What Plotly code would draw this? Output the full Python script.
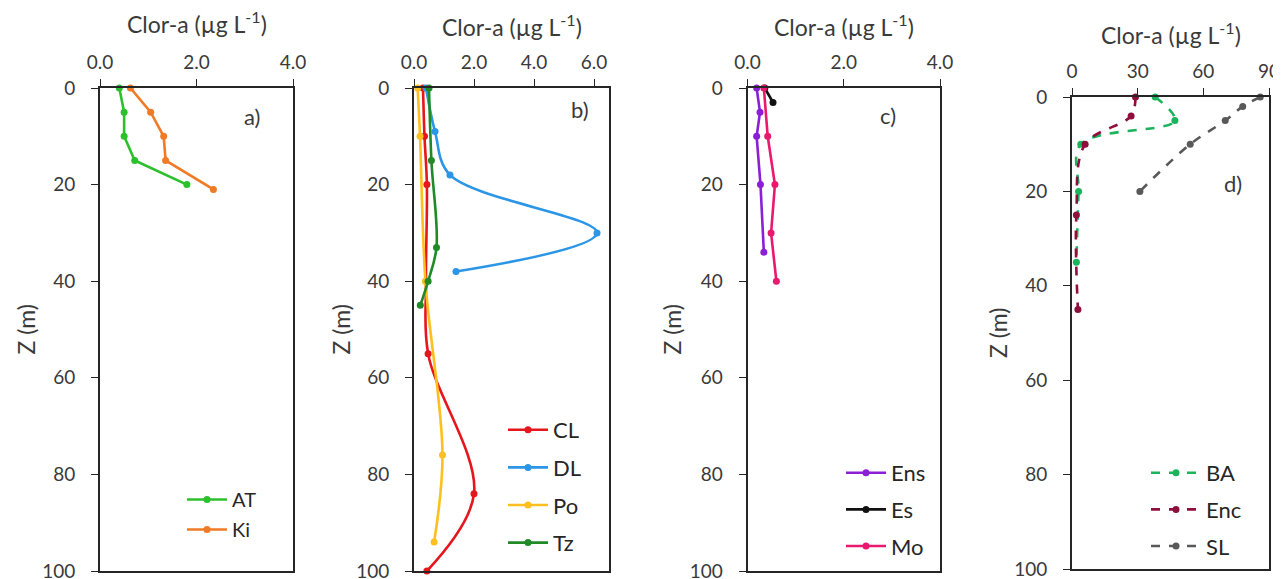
import plotly.graph_objects as go

# ---------------- data ----------------
# panel a
AT_z = [0, 5, 10, 15, 20]
AT_x = [0.40, 0.50, 0.50, 0.72, 1.80]
Ki_z = [0, 5, 10, 15, 21]
Ki_x = [0.63, 1.05, 1.32, 1.36, 2.35]
# panel b
CL_z = [0, 10, 20, 40, 55, 84, 100]
CL_x = [0.30, 0.35, 0.43, 0.40, 0.47, 2.00, 0.43]
DL_z = [0, 9, 18, 30, 38]
DL_x = [0.40, 0.70, 1.20, 6.10, 1.40]
Po_z = [0, 10, 40, 76, 94]
Po_x = [0.12, 0.20, 0.38, 0.95, 0.67]
Tz_z = [0, 15, 33, 40, 45]
Tz_x = [0.50, 0.58, 0.75, 0.47, 0.21]
# panel c
Ens_z = [0, 5, 10, 20, 34]
Ens_x = [0.19, 0.26, 0.19, 0.27, 0.34]
Es_z = [0, 3]
Es_x = [0.36, 0.53]
Mo_z = [0, 10, 20, 30, 40]
Mo_x = [0.34, 0.42, 0.57, 0.49, 0.60]
# panel d
BA_z = [0, 5, 10, 20, 35]
BA_x = [38, 47, 4, 3, 2]
Enc_z = [0, 4, 10, 25, 45]
Enc_x = [29, 27, 6, 2, 2.7]
SL_z = [0, 2, 5, 10, 20]
SL_x = [86, 78, 70, 54, 31]

x_title = "Clor-a (µg L<sup>-1</sup>)"
y_title = "Z (m)"
depth_ticks = [0, 20, 40, 60, 80, 100]

W, H = 1281, 579
OFF = 8  # page body margin
FONT = "Lato"
TXT = "#3a3a3a"
LINE = "#262626"


def fx(p):
    return (p - OFF) / W


def fy(p):
    return 1 - (p - OFF) / H


fig = go.Figure()

series = [
    ("AT", AT_x, AT_z, "#2DC02D", 1, "linear", "solid"),
    ("Ki", Ki_x, Ki_z, "#F07A26", 1, "linear", "solid"),
    ("CL", CL_x, CL_z, "#E5161C", 2, "spline", "solid"),
    ("DL", DL_x, DL_z, "#2B95E6", 2, "spline", "solid"),
    ("Po", Po_x, Po_z, "#FFBF1F", 2, "spline", "solid"),
    ("Tz", Tz_x, Tz_z, "#1F8A26", 2, "spline", "solid"),
    ("Ens", Ens_x, Ens_z, "#8A1FD6", 3, "linear", "solid"),
    ("Es", Es_x, Es_z, "#111111", 3, "linear", "solid"),
    ("Mo", Mo_x, Mo_z, "#E8196E", 3, "linear", "solid"),
    ("BA", BA_x, BA_z, "#1BB35C", 4, "spline", "dash"),
    ("Enc", Enc_x, Enc_z, "#8E0F3C", 4, "spline", "dash"),
    ("SL", SL_x, SL_z, "#595959", 4, "spline", "dash"),
]

for name, xs, zs, col, p, shape, dash in series:
    sfx = "" if p == 1 else str(p)
    fig.add_trace(go.Scatter(
        x=xs, y=zs, name=name, mode="lines+markers",
        line=dict(color=col, width=2.6, shape=shape, dash=dash, smoothing=1.0),
        marker=dict(color=col, size=7),
        xaxis="x" + sfx, yaxis="y" + sfx,
        legend="legend" + sfx, legendgroup=name,
        cliponaxis=False,
    ))

# panel geometry in pixels: (left, right, top, bottom)
geom = {
    1: (100, 293, 88, 571),
    2: (414, 609, 88, 571),
    3: (747.5, 940, 88, 571),
    4: (1072, 1269, 97, 569),
}
xranges = {1: [0, 4], 2: [0, 6.5], 3: [0, 4], 4: [0, 90]}
xdticks = {1: 2, 2: 2, 3: 2, 4: 30}
xfmt = {1: ".1f", 2: ".1f", 3: ".1f", 4: "d"}

layout = dict(
    width=W, height=H,
    margin=dict(l=0, r=0, t=0, b=0, pad=0, autoexpand=False),
    paper_bgcolor="white", plot_bgcolor="white",
    font=dict(family=FONT, size=19, color=TXT),
    showlegend=True,
)

annotations = []
for p, (l, r, t, b) in geom.items():
    sfx = "" if p == 1 else str(p)
    layout["xaxis" + sfx] = dict(
        domain=[fx(l), fx(r)], range=xranges[p], dtick=xdticks[p], tick0=0,
        tickformat=xfmt[p], side="top", anchor="y" + sfx,
        showline=True, linecolor=LINE, linewidth=1.6, mirror=True,
        ticks="outside", ticklen=7, tickcolor=LINE, tickwidth=1.4,
        showgrid=False, zeroline=False, fixedrange=True, automargin=False,
        ticklabelstandoff=3,
        tickfont=dict(family=FONT, size=19, color=TXT),
    )
    layout["yaxis" + sfx] = dict(
        domain=[fy(b), fy(t)], range=[100, 0], tickvals=depth_ticks,
        anchor="x" + sfx,
        showline=True, linecolor=LINE, linewidth=1.6, mirror=True,
        ticks="outside", ticklen=7, tickcolor=LINE, tickwidth=1.4,
        showgrid=False, zeroline=False, fixedrange=True, automargin=False,
        ticklabelstandoff=12,
        tickfont=dict(family=FONT, size=19, color=TXT),
    )

# x titles (top)
for p, yc in zip([1, 2, 3, 4], [23, 25, 25, 34]):
    l, r, t, b = geom[p]
    annotations.append(dict(
        text=x_title, xref="paper", yref="paper", x=fx((l + r) / 2), y=fy(yc),
        xanchor="center", yanchor="middle", showarrow=False,
        font=dict(family=FONT, size=23, color=TXT)))

# y titles
for p, xc in zip([1, 2, 3, 4], [25, 340, 671, 998]):
    l, r, t, b = geom[p]
    annotations.append(dict(
        text=y_title, xref="paper", yref="paper", x=fx(xc), y=fy((t + b) / 2),
        xanchor="center", yanchor="middle", textangle=-90, showarrow=False,
        font=dict(family=FONT, size=23, color=TXT)))

# panel labels
for lab, xc, yc in [("a)", 252, 117), ("b)", 580, 110), ("c)", 888, 115), ("d)", 1233, 183)]:
    annotations.append(dict(
        text=lab, xref="paper", yref="paper", x=fx(xc), y=fy(yc),
        xanchor="center", yanchor="middle", showarrow=False,
        font=dict(family=FONT, size=22, color=TXT)))

layout["annotations"] = annotations

# legends: (left px, top px, gap, font size, item width)
leg_pos = {
    1: (182, 480, 1, 20, 40),
    2: (503, 409, 6, 22, 40),
    3: (841, 452, 5, 22, 40),
    4: (1146, 452, 5, 22, 50),
}
for p, (lx, ty, gap, fs, iw) in leg_pos.items():
    key = "legend" if p == 1 else "legend" + str(p)
    layout[key] = dict(
        x=fx(lx), y=fy(ty), xanchor="left", yanchor="top",
        bgcolor="rgba(0,0,0,0)", borderwidth=0,
        font=dict(family=FONT, size=fs, color=LINE),
        tracegroupgap=gap, itemwidth=iw,
    )

fig.update_layout(**layout)
fig.write_html("out.html")
